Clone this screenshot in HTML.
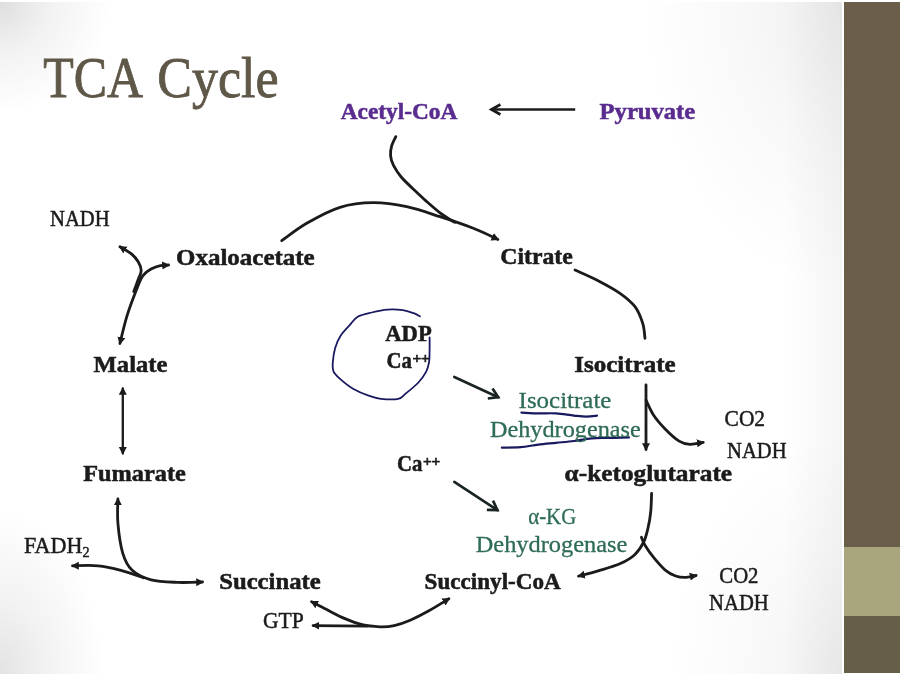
<!DOCTYPE html>
<html lang="en">
<head>
<meta charset="utf-8">
<title>TCA Cycle</title>
<style>
html,body{margin:0;padding:0;background:#fff;}
body{width:900px;height:675px;overflow:hidden;font-family:"Liberation Serif",serif;}
#slide{position:relative;width:900px;height:675px;overflow:hidden;background:#fff;}
#bg{position:absolute;left:0;top:2px;width:842px;height:671.5px;
 background:
  radial-gradient(circle 112px at 0 0, rgba(0,0,0,0.13) 0, rgba(0,0,0,0.05) 45%, rgba(0,0,0,0) 100%),
  radial-gradient(ellipse 105px 165px at 0 100%, rgba(0,0,0,0.11) 0, rgba(0,0,0,0.05) 45%, rgba(0,0,0,0) 100%),
  radial-gradient(ellipse 200px 290px at 100% 0, rgba(0,0,0,0.07) 0, rgba(0,0,0,0.028) 50%, rgba(0,0,0,0) 100%),
  radial-gradient(ellipse 175px 240px at 100% 100%, rgba(0,0,0,0.06) 0, rgba(0,0,0,0.025) 50%, rgba(0,0,0,0) 100%),
  linear-gradient(to left, rgba(0,0,0,0.04) 0, rgba(0,0,0,0) 58px),
  #fff;
}
#bar{position:absolute;left:843.7px;top:2.2px;width:56.3px;height:671.1px;background:#6a5d4a;}
#bar .olive{position:absolute;left:0;top:544.6px;width:57px;height:68.8px;background:#a9a57c;}
#bar .low{position:absolute;left:0;top:613.4px;width:57px;height:57.7px;background:#675e47;}
svg{position:absolute;left:0;top:0;filter:blur(0.35px);}
text{font-family:"Liberation Serif",serif;}
</style>
</head>
<body>
<div id="slide">
<div id="bg"></div>
<div id="bar"><div class="olive"></div><div class="low"></div></div>
<svg width="900" height="675" viewBox="0 0 900 675">
<defs>
<marker id="tri" markerUnits="userSpaceOnUse" markerWidth="12" markerHeight="12" refX="6.3" refY="6" orient="auto-start-reverse">
<path d="M0,2 L7.8,6 L0,10 Z" fill="#1b1b1b"/>
</marker>
</defs>

<g fill="none" stroke-linecap="round" stroke-linejoin="round">
<path d="M395.8,136.6 C395.1,138.2 392.5,143.0 391.6,146.2 C390.7,149.4 390.3,152.6 390.6,155.8 C390.9,159.0 391.7,161.9 393.5,165.4 C395.3,168.9 398.0,173.2 401.2,177.0 C404.4,180.8 408.5,184.5 412.7,188.5 C416.9,192.5 421.7,197.1 426.2,201.1 C430.7,205.1 435.5,209.4 439.7,212.6 C443.9,215.8 448.8,218.7 451.3,220.3 C453.9,221.9 454.4,222.0 455.0,222.3" stroke="#1b1b1b" stroke-width="2.8"/>
<path d="M281.7,240.7 C285.9,237.8 297.0,228.9 306.7,223.3 C316.4,217.7 328.9,210.7 340.0,207.3 C351.1,203.9 362.2,202.8 373.3,202.7 C384.4,202.6 395.6,204.4 406.7,206.7 C417.8,209.0 428.9,213.1 440.0,216.7 C451.1,220.3 463.6,224.5 473.3,228.3 C483.0,232.1 493.8,237.5 497.9,239.4" stroke="#1b1b1b" stroke-width="2.8" marker-end="url(#tri)"/>
<path d="M575.0,270.0 C578.6,271.7 589.2,276.1 596.7,280.0 C604.2,283.9 613.6,288.9 620.0,293.3 C626.4,297.8 631.2,301.7 635.0,306.7 C638.8,311.7 641.0,318.0 642.7,323.3 C644.4,328.6 644.6,335.8 645.0,338.3" stroke="#1b1b1b" stroke-width="2.8"/>
<path d="M646.0,385.0 C646.0,395.8 646.0,438.8 646.0,449.5" stroke="#1b1b1b" stroke-width="2.8" marker-end="url(#tri)"/>
<path d="M646.0,400.0 C647.2,402.5 650.4,410.2 653.5,415.0 C656.6,419.8 660.6,424.3 664.9,428.7 C669.2,433.1 674.9,438.5 679.1,441.1 C683.3,443.7 686.0,444.1 690.0,444.3 C694.0,444.5 701.0,442.7 703.2,442.4" stroke="#1b1b1b" stroke-width="2.8" marker-end="url(#tri)"/>
<path d="M651.6,493.3 C651.5,496.4 651.3,506.2 650.7,512.0 C650.1,517.8 649.2,523.0 648.0,528.0 C646.8,533.0 645.8,537.8 643.6,542.2 C641.4,546.7 638.6,551.1 634.7,554.7 C630.8,558.3 626.3,560.9 620.4,563.6 C614.5,566.3 606.1,568.6 599.1,570.7 C592.1,572.8 582.1,575.3 578.6,576.2" stroke="#1b1b1b" stroke-width="2.8" marker-end="url(#tri)"/>
<path d="M641.4,537.2 C642.0,538.6 643.2,542.3 645.3,545.8 C647.4,549.3 650.9,554.2 654.2,558.2 C657.5,562.2 661.3,566.8 664.9,569.8 C668.5,572.8 672.0,574.7 675.6,576.0 C679.2,577.3 682.8,577.5 686.2,577.4 C689.6,577.3 694.5,575.8 696.1,575.5" stroke="#1b1b1b" stroke-width="2.8" marker-end="url(#tri)"/>
<path d="M448.9,598.8 C445.4,600.9 434.5,607.7 428.0,611.3 C421.5,614.9 415.8,617.8 410.2,620.2 C404.6,622.6 399.2,624.5 394.2,625.6 C389.2,626.7 385.3,626.9 380.0,626.8 C374.7,626.6 368.1,626.1 362.2,624.7 C356.3,623.3 350.3,620.9 344.4,618.4 C338.5,615.9 332.2,612.4 326.7,609.6 C321.2,606.8 314.1,603.0 311.6,601.7" stroke="#1b1b1b" stroke-width="2.8" marker-start="url(#tri)" marker-end="url(#tri)"/>
<path d="M367.6,626.2 C358.5,626.1 322.2,625.7 313.1,625.6" stroke="#1b1b1b" stroke-width="2.8" marker-end="url(#tri)"/>
<path d="M202.5,582.0 C198.4,582.1 186.2,582.8 177.6,582.4 C169.0,582.0 158.7,581.8 151.1,579.8 C143.5,577.8 136.9,574.7 132.2,570.3 C127.5,565.9 125.2,561.2 122.8,553.3 C120.4,545.4 118.7,532.2 117.9,523.1 C117.1,514.0 117.9,502.9 117.9,498.9" stroke="#1b1b1b" stroke-width="2.8" marker-start="url(#tri)" marker-end="url(#tri)"/>
<path d="M143.6,577.9 C139.8,576.6 128.5,572.3 120.9,570.3 C113.3,568.3 106.3,566.5 98.2,565.8 C90.1,565.0 76.8,565.8 72.5,565.8" stroke="#1b1b1b" stroke-width="2.8" marker-end="url(#tri)"/>
<path d="M122.8,388.4 C122.8,399.2 122.8,442.6 122.8,453.4" stroke="#1b1b1b" stroke-width="2.3" marker-start="url(#tri)" marker-end="url(#tri)"/>
<path d="M119.9,343.5 C121.0,339.1 124.1,325.4 126.7,316.8 C129.3,308.2 132.9,298.7 135.6,291.9 C138.3,285.1 140.0,279.8 142.7,275.9 C145.4,272.0 148.6,270.5 151.6,268.8 C154.6,267.1 157.6,266.2 160.4,265.6 C163.2,265.0 167.2,265.1 168.5,265.0" stroke="#1b1b1b" stroke-width="2.8" marker-start="url(#tri)" marker-end="url(#tri)"/>
<path d="M133.8,291.5 C134.5,289.5 137.0,282.9 138.2,279.4 C139.4,275.9 141.2,273.6 141.2,270.6 C141.2,267.7 139.9,264.5 138.2,261.7 C136.5,258.9 134.1,256.2 131.1,253.7 C128.1,251.2 121.8,247.9 120.0,246.8" stroke="#1b1b1b" stroke-width="2.8" marker-end="url(#tri)"/>
</g>
<g fill="none" stroke="#1b1b1b" stroke-width="2.7" stroke-linecap="butt" stroke-linejoin="miter"><path d="M575.2,109.5 L491.4,109.5"/><path d="M500.4,104.5 L491.4,109.5 L500.4,114.5" stroke-linecap="butt"/></g>
<g fill="none" stroke="#1b2424" stroke-width="2.7" stroke-linecap="round" stroke-linejoin="miter"><path d="M454.3,376.9 L498.2,397.2"/><path d="M487.8,398.5 L498.2,397.2 L492.5,388.4" stroke-linecap="butt"/></g>
<g fill="none" stroke="#1b2424" stroke-width="2.7" stroke-linecap="round" stroke-linejoin="miter"><path d="M454.3,481.9 L497.4,510.1"/><path d="M486.9,509.9 L497.4,510.1 L493.0,500.6" stroke-linecap="butt"/></g>
<g fill="none" stroke="#191960" stroke-width="1.8" stroke-linecap="round" stroke-linejoin="round">
<path d="M419.9,316.3 C418.9,315.8 416.5,314.2 413.7,313.2 C410.9,312.2 407.2,310.7 402.8,310.1 C398.4,309.5 392.5,309.2 387.3,309.6 C382.1,310.0 376.6,311.3 371.7,312.5 C366.8,313.7 361.3,314.7 357.7,316.8 C354.1,318.9 352.8,321.7 349.9,324.9 C347.0,328.1 343.1,331.9 340.6,335.8 C338.1,339.7 336.4,343.8 335.1,348.2 C333.8,352.6 333.1,358.4 332.8,362.3 C332.6,366.2 332.3,368.8 333.6,371.6 C334.9,374.5 337.4,376.5 340.6,379.4 C343.8,382.2 348.3,386.0 353.0,388.7 C357.7,391.4 363.9,394.0 368.6,395.7 C373.3,397.4 376.1,398.3 381.0,398.8 C385.9,399.3 394.1,399.7 398.2,398.8 C402.3,397.9 402.5,396.1 405.9,393.4 C409.3,390.7 415.0,386.1 418.4,382.5 C421.8,378.9 424.4,375.0 426.2,371.6 C428.0,368.2 428.4,365.9 429.0,362.3 C429.6,358.7 429.5,354.0 429.6,349.8 C429.7,345.6 429.6,339.5 429.6,337.4" stroke-width="1.8"/>
<path d="M521.4,412.6 C524.2,412.7 532.5,413.3 538.3,413.4 C544.1,413.5 550.2,413.0 556.1,413.4 C562.0,413.8 568.9,415.1 573.9,415.6 C578.9,416.1 582.4,416.6 586.3,416.6 C590.1,416.6 595.2,415.8 597.0,415.6" stroke-width="2.2"/>
<path d="M501.9,447.6 C505.0,447.5 514.5,447.7 520.6,447.2 C526.7,446.7 532.4,445.3 538.3,444.6 C544.2,443.9 550.2,443.4 556.1,442.8 C562.0,442.2 568.0,441.8 573.9,441.0 C579.8,440.2 585.8,438.8 591.7,438.3 C597.6,437.8 603.2,438.0 609.4,437.8 C615.6,437.6 625.7,437.5 629.0,437.4" stroke-width="2.2"/>
</g>
<text x="43.3" y="97.4" font-size="56.5" fill="#5f5747" stroke="#5f5747" stroke-width="0.80" textLength="99.9" lengthAdjust="spacingAndGlyphs">TCA</text>
<text x="157.2" y="97.4" font-size="56.5" fill="#5f5747" stroke="#5f5747" stroke-width="0.80" textLength="121.4" lengthAdjust="spacingAndGlyphs">Cycle</text>
<text x="340.7" y="118.5" font-size="23.3" font-weight="bold" fill="#5a2c8f" stroke="#5a2c8f" stroke-width="0.55" textLength="116.7" lengthAdjust="spacingAndGlyphs">Acetyl-CoA</text>
<text x="599.6" y="118.5" font-size="23.3" font-weight="bold" fill="#5a2c8f" stroke="#5a2c8f" stroke-width="0.55" textLength="95.5" lengthAdjust="spacingAndGlyphs">Pyruvate</text>
<text x="50.0" y="226.2" font-size="23.3" fill="#1b1b1b" stroke="#1b1b1b" stroke-width="0.50" textLength="59.7" lengthAdjust="spacingAndGlyphs">NADH</text>
<text x="176.0" y="264.5" font-size="23.3" font-weight="bold" fill="#1b1b1b" stroke="#1b1b1b" stroke-width="0.55" textLength="138.7" lengthAdjust="spacingAndGlyphs">Oxaloacetate</text>
<text x="500.3" y="264.0" font-size="23.3" font-weight="bold" fill="#1b1b1b" stroke="#1b1b1b" stroke-width="0.55" textLength="72.4" lengthAdjust="spacingAndGlyphs">Citrate</text>
<text x="93.6" y="372.2" font-size="23.3" font-weight="bold" fill="#1b1b1b" stroke="#1b1b1b" stroke-width="0.55" textLength="73.8" lengthAdjust="spacingAndGlyphs">Malate</text>
<text x="574.3" y="372.2" font-size="23.3" font-weight="bold" fill="#1b1b1b" stroke="#1b1b1b" stroke-width="0.55" textLength="101.4" lengthAdjust="spacingAndGlyphs">Isocitrate</text>
<text x="385.3" y="341.2" font-size="23.3" font-weight="bold" fill="#1b1b1b" stroke="#1b1b1b" stroke-width="0.55" textLength="46.4" lengthAdjust="spacingAndGlyphs">ADP</text>
<text x="386.6" y="368.3" font-size="23.3" font-weight="bold" fill="#1b1b1b" stroke="#1b1b1b" stroke-width="0.55" textLength="25.4" lengthAdjust="spacingAndGlyphs">Ca</text>
<text x="412.4" y="362.9" font-size="14.5" font-weight="bold" fill="#1b1b1b" stroke="#1b1b1b" stroke-width="0.60" textLength="17.4" lengthAdjust="spacingAndGlyphs">++</text>
<text x="518.6" y="408.2" font-size="23.3" fill="#2f6c56" stroke="#2f6c56" stroke-width="0.30" textLength="92.8" lengthAdjust="spacingAndGlyphs">Isocitrate</text>
<text x="490.0" y="437.3" font-size="23.3" fill="#2f6c56" stroke="#2f6c56" stroke-width="0.30" textLength="150.7" lengthAdjust="spacingAndGlyphs">Dehydrogenase</text>
<text x="724.6" y="426.3" font-size="23.3" fill="#1b1b1b" stroke="#1b1b1b" stroke-width="0.50" textLength="40.5" lengthAdjust="spacingAndGlyphs">CO2</text>
<text x="727.1" y="458.0" font-size="23.3" fill="#1b1b1b" stroke="#1b1b1b" stroke-width="0.50" textLength="59.4" lengthAdjust="spacingAndGlyphs">NADH</text>
<text x="397.1" y="471.0" font-size="23.3" font-weight="bold" fill="#1b1b1b" stroke="#1b1b1b" stroke-width="0.55" textLength="25.4" lengthAdjust="spacingAndGlyphs">Ca</text>
<text x="422.9" y="465.6" font-size="14.5" font-weight="bold" fill="#1b1b1b" stroke="#1b1b1b" stroke-width="0.60" textLength="17.4" lengthAdjust="spacingAndGlyphs">++</text>
<text x="83.2" y="481.3" font-size="23.3" font-weight="bold" fill="#1b1b1b" stroke="#1b1b1b" stroke-width="0.55" textLength="102.6" lengthAdjust="spacingAndGlyphs">Fumarate</text>
<text x="564.6" y="481.2" font-size="23.3" font-weight="bold" fill="#1b1b1b" stroke="#1b1b1b" stroke-width="0.55" textLength="167.5" lengthAdjust="spacingAndGlyphs">α-ketoglutarate</text>
<text x="528.2" y="523.6" font-size="23.3" fill="#2f6c56" stroke="#2f6c56" stroke-width="0.30" textLength="48.1" lengthAdjust="spacingAndGlyphs">α-KG</text>
<text x="475.7" y="551.6" font-size="23.3" fill="#2f6c56" stroke="#2f6c56" stroke-width="0.30" textLength="151.7" lengthAdjust="spacingAndGlyphs">Dehydrogenase</text>
<text x="23.9" y="552.7" font-size="23.3" fill="#1b1b1b" stroke="#1b1b1b" stroke-width="0.50" textLength="65.6" lengthAdjust="spacingAndGlyphs">FADH<tspan dy='4.5' font-size='15'>2</tspan></text>
<text x="219.2" y="589.0" font-size="23.3" font-weight="bold" fill="#1b1b1b" stroke="#1b1b1b" stroke-width="0.55" textLength="101.5" lengthAdjust="spacingAndGlyphs">Succinate</text>
<text x="424.6" y="589.4" font-size="23.3" font-weight="bold" fill="#1b1b1b" stroke="#1b1b1b" stroke-width="0.55" textLength="136.1" lengthAdjust="spacingAndGlyphs">Succinyl-CoA</text>
<text x="719.3" y="582.7" font-size="23.3" fill="#1b1b1b" stroke="#1b1b1b" stroke-width="0.50" textLength="39.2" lengthAdjust="spacingAndGlyphs">CO2</text>
<text x="709.1" y="610.3" font-size="23.3" fill="#1b1b1b" stroke="#1b1b1b" stroke-width="0.50" textLength="59.6" lengthAdjust="spacingAndGlyphs">NADH</text>
<text x="263.0" y="628.3" font-size="23.3" fill="#1b1b1b" stroke="#1b1b1b" stroke-width="0.50" textLength="40.7" lengthAdjust="spacingAndGlyphs">GTP</text>
</svg>
</div>
</body>
</html>
